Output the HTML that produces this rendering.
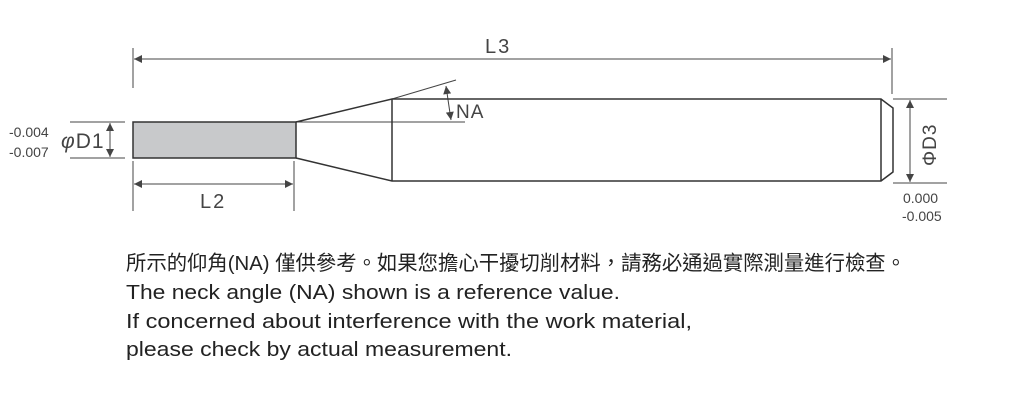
<!DOCTYPE html>
<html><head><meta charset="utf-8"><style>
html,body{margin:0;padding:0;background:#fff;}
svg{display:block;}
</style></head><body>
<svg width="1016" height="413" viewBox="0 0 1016 413" xmlns="http://www.w3.org/2000/svg">
<defs>
<marker id="a" viewBox="0 0 10 10" refX="10" refY="5" markerWidth="10" markerHeight="8" markerUnits="userSpaceOnUse" orient="auto-start-reverse"><path d="M0,0 L10,5 L0,10 z" fill="#444"/></marker>
</defs>
<g stroke="#444" stroke-width="1" fill="none">
<line x1="133" y1="48" x2="133" y2="88"/>
<line x1="892" y1="48" x2="892" y2="94"/>
<line x1="133" y1="161" x2="133" y2="211"/>
<line x1="294" y1="161" x2="294" y2="211"/>
<line x1="70" y1="122" x2="125" y2="122"/>
<line x1="70" y1="158" x2="125" y2="158"/>
<line x1="893" y1="99" x2="947" y2="99"/>
<line x1="893" y1="183" x2="947" y2="183"/>
<line x1="296" y1="122" x2="465" y2="122"/>
<line x1="392" y1="99" x2="456" y2="80"/>
<line x1="134" y1="59" x2="891" y2="59" marker-start="url(#a)" marker-end="url(#a)"/>
<line x1="134" y1="184" x2="293" y2="184" marker-start="url(#a)" marker-end="url(#a)"/>
<line x1="110" y1="123" x2="110" y2="157" marker-start="url(#a)" marker-end="url(#a)"/>
<line x1="910" y1="100" x2="910" y2="182" marker-start="url(#a)" marker-end="url(#a)"/>
<line x1="446" y1="86" x2="451" y2="120" marker-start="url(#a)" marker-end="url(#a)"/>
</g>
<rect x="133" y="122" width="163" height="36" fill="#c8c9cb" stroke="#333" stroke-width="1.5"/>
<g stroke="#333" stroke-width="1.5" fill="none">
<path d="M296,122 L392,99 L881,99 L893,108 L893,172 L881,181 L392,181 L296,158"/>
<line x1="392" y1="99" x2="392" y2="181"/>
<line x1="881" y1="99" x2="881" y2="181"/>
</g>
<g font-family="Liberation Sans, sans-serif" fill="#444">
<text x="485" y="53" font-size="20" letter-spacing="2">L3</text>
<text x="200" y="208" font-size="20" letter-spacing="2">L2</text>
<text x="456" y="118" font-size="19" letter-spacing="1">NA</text>
<text x="61" y="148" font-size="21" letter-spacing="1"><tspan font-style="italic">φ</tspan>D1</text>
<text x="9" y="137" font-size="14">-0.004</text>
<text x="9" y="157" font-size="14">-0.007</text>
<text x="903" y="203" font-size="14">0.000</text>
<text x="902" y="221" font-size="14">-0.005</text>
<text transform="translate(936,166) rotate(-90)" font-size="19" letter-spacing="1">ΦD3</text>
</g>
<g font-family="Liberation Sans, 'Noto Sans CJK TC', sans-serif" fill="#222" font-size="20.5">
<text x="126" y="270" textLength="780" lengthAdjust="spacingAndGlyphs">所示的仰角(NA) 僅供參考。如果您擔心干擾切削材料，請務必通過實際測量進行檢查。</text>
<text x="126" y="299" textLength="494" lengthAdjust="spacingAndGlyphs">The neck angle (NA) shown is a reference value.</text>
<text x="126" y="328" textLength="566" lengthAdjust="spacingAndGlyphs">If concerned about interference with the work material,</text>
<text x="126" y="356" textLength="386" lengthAdjust="spacingAndGlyphs">please check by actual measurement.</text>
</g>
</svg>
</body></html>
